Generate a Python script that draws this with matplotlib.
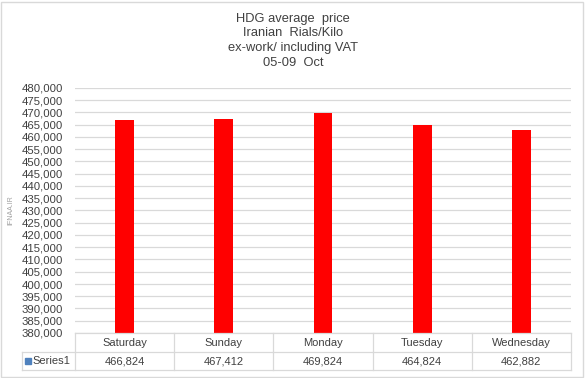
import matplotlib.pyplot as plt
import numpy as np
from matplotlib.lines import Line2D
from matplotlib.patches import Rectangle

days = ["Saturday", "Sunday", "Monday", "Tuesday", "Wednesday"]
prices = [466824, 467412, 469824, 464824, 462882]
series_name = "Series1"
title_lines = ["HDG average  price", "Iranian  Rials/Kilo",
               "ex-work/ including VAT", "05-09  Oct"]

plt.rcParams['font.family'] = ['Liberation Sans', 'DejaVu Sans']

W, H = 585, 378
fig = plt.figure(figsize=(W / 100, H / 100), dpi=100)

# plot area in pixels
left, right, top, bottom = 75, 571, 88, 333
ax = fig.add_axes([left / W, 1 - bottom / H, (right - left) / W, (bottom - top) / H])

x = np.arange(len(days))
ax.bar(x, prices, width=0.19, color='#FF0000', zorder=3)
ax.set_xlim(-0.5, len(days) - 0.5)
ax.set_ylim(380000, 480000)
ax.set_yticks(np.arange(380000, 480001, 5000))
ax.set_yticklabels([f"{v:,}" for v in range(380000, 480001, 5000)], fontsize=8.2, color='#404040')
ax.yaxis.grid(True, color='#D9D9D9', linewidth=0.9, zorder=0)
ax.set_xticks([])
ax.tick_params(axis='y', length=0, pad=8.5)
for s in ax.spines.values():
    s.set_visible(False)

fig.text(11 / W, 1 - 210 / H, "IFNAA.IR", rotation=90, fontsize=5, color='#A0A0A0',
         ha='center', va='center')

# title
for i, line in enumerate(title_lines):
    fig.text(293 / W, 1 - (19 + i * 14.5) / H, line, fontsize=9.3, color='#404040',
             ha='center', va='center')

# data table below the plot
gc = '#D9D9D9'
r0, r1, r2 = 333, 352, 370
tl = 22
colw = (right - left) / len(days)

def hline(y, x0, x1):
    fig.add_artist(Line2D([x0 / W, x1 / W], [1 - y / H, 1 - y / H], color=gc, lw=0.9))

def vline(xp, y0, y1):
    fig.add_artist(Line2D([xp / W, xp / W], [1 - y0 / H, 1 - y1 / H], color=gc, lw=0.9))

hline(r0, left, right)
hline(r1, tl, right)
hline(r2, tl, right)
vline(tl, r1, r2)
for i in range(len(days) + 1):
    vline(left + i * colw, r0, r2)

for i, (d, p) in enumerate(zip(days, prices)):
    cx = left + (i + 0.5) * colw
    fig.text(cx / W, 1 - (r0 + r1) / 2 / H, d, fontsize=8, color='#404040', ha='center', va='center')
    fig.text(cx / W, 1 - (r1 + r2) / 2 / H, f"{p:,}", fontsize=8, color='#404040', ha='center', va='center')

fig.add_artist(Rectangle((25 / W, 1 - 364 / H), 6 / W, 6 / H, color='#4F81BD'))
fig.text(32 / W, 1 - (r1 + r2) / 2 / H, series_name, fontsize=8, color='#404040', ha='left', va='center')

# outer border
fig.add_artist(Rectangle((1 / W, 1 / H), (W - 3) / W, (H - 3) / H, fill=False, edgecolor='#D9D9D9', lw=1))

fig.savefig("out.png", dpi=100)
